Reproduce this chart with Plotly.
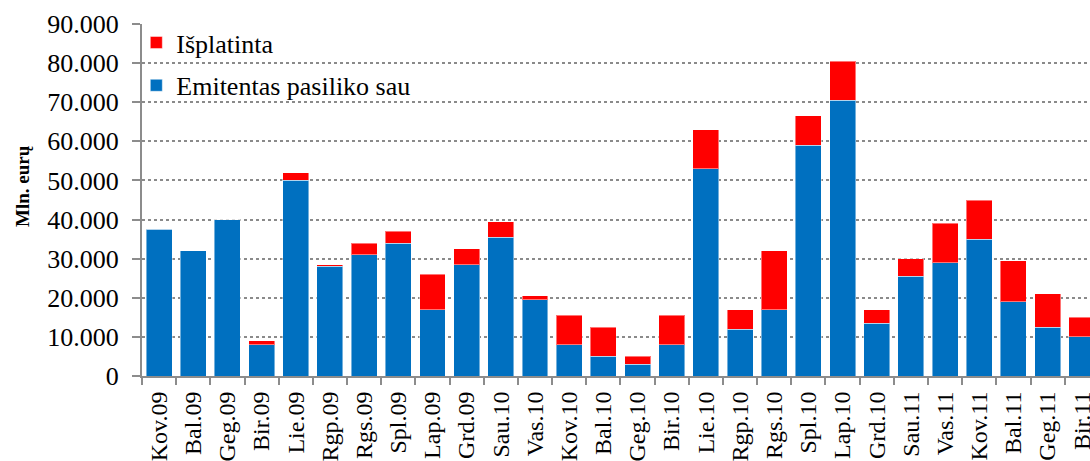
import plotly.graph_objects as go

categories = ["Kov.09", "Bal.09", "Geg.09", "Bir.09", "Lie.09", "Rgp.09", "Rgs.09",
              "Spl.09", "Lap.09", "Grd.09", "Sau.10", "Vas.10", "Kov.10", "Bal.10",
              "Geg.10", "Bir.10", "Lie.10", "Rgp.10", "Rgs.10", "Spl.10", "Lap.10",
              "Grd.10", "Sau.11", "Vas.11", "Kov.11", "Bal.11", "Geg.11", "Bir.11"]

# Emitentas pasiliko sau (blue, bottom segment)
retained = [37500, 32000, 40000, 8000, 50000, 28000, 31000,
            34000, 17000, 28500, 35500, 19500, 8000, 5000,
            3000, 8000, 53000, 12000, 17000, 59000, 70500,
            13500, 25500, 29000, 35000, 19000, 12500, 10000]

# Išplatinta (red, top segment)
placed = [0, 0, 0, 1000, 2000, 500, 3000,
          3000, 9000, 4000, 4000, 1000, 7500, 7500,
          2000, 7500, 10000, 5000, 15000, 7500, 10000,
          3500, 4500, 10000, 10000, 10500, 8500, 5000]

y_ticks = [0, 10000, 20000, 30000, 40000, 50000, 60000, 70000, 80000, 90000]

FONT = "Liberation Serif"
BLUE = "#0070C0"
RED = "#FF0000"
GRAY = "#8c8c8c"

fig = go.Figure()
fig.add_trace(go.Bar(
    x=categories, y=retained, name="Emitentas pasiliko sau",
    legendgroup="a", legendrank=2,
    marker=dict(color=BLUE, line=dict(color="rgba(255,255,255,0.45)", width=1)),
))
fig.add_trace(go.Bar(
    x=categories, y=placed, name="Išplatinta",
    legendgroup="b", legendrank=1,
    marker=dict(color=RED, line=dict(color="rgba(255,255,255,0.45)", width=1)),
))

fig.update_layout(
    width=1090, height=461, autosize=False,
    barmode="stack", bargap=0.24,
    separators=",.",
    paper_bgcolor="white", plot_bgcolor="white",
    margin=dict(l=142, r=0, t=24, b=85, pad=0, autoexpand=False),
    font=dict(family=FONT, color="black", size=24),
    legend=dict(
        x=-0.006, y=1.014, xanchor="left", yanchor="top",
        traceorder="grouped", tracegroupgap=6,
        font=dict(family=FONT, size=26, color="black"),
        bgcolor="rgba(0,0,0,0)",
        itemwidth=30,
    ),
    showlegend=True,
    annotations=[dict(
        text="<b>Mln. eurų</b>", textangle=-90,
        xref="paper", yref="paper", x=-0.1255, y=0.54,
        xanchor="center", yanchor="middle", showarrow=False,
        font=dict(family=FONT, size=19, color="black"),
    )],
)

fig.update_xaxes(
    type="category",
    automargin=False,
    range=[-0.5, 27.24],
    tickangle=-90,
    tickson="boundaries",
    ticks="outside", ticklen=7, tickwidth=2, tickcolor=GRAY,
    showline=True, linecolor=GRAY, linewidth=2,
    showgrid=False,
    tickfont=dict(family=FONT, size=24, color="black"),
    ticklabelstandoff=4,
)

fig.update_yaxes(
    automargin=False,
    range=[0, 90000],
    tickvals=y_ticks,
    tickformat=",d",
    ticks="outside", ticklen=8, tickwidth=2, tickcolor=GRAY,
    showline=True, linecolor=GRAY, linewidth=2,
    showgrid=True, gridcolor="#8a8a8a", gridwidth=1.5, griddash="dot",
    zeroline=False,
    tickfont=dict(family=FONT, size=26, color="black"),
    ticklabelstandoff=8,
)

fig.write_html(
    "out.html",
    config={"displayModeBar": False},
    post_script="document.body.style.margin='0';document.documentElement.style.overflow='hidden';document.body.style.overflow='hidden';",
)
